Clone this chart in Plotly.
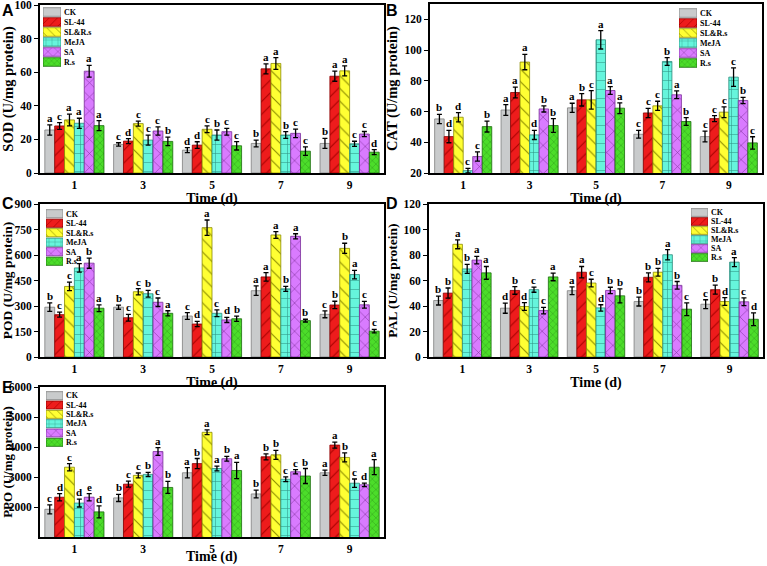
import plotly.graph_objects as go

days = ["1", "3", "5", "7", "9"]
treatments = ["CK", "SL-44", "SL&R.s", "MeJA", "SA", "R.s"]

# ---- SOD (panel A) rows = treatments, cols = days
sod_mean = [
    [25.6, 17.0, 13.6, 17.6, 17.6],
    [28.0, 19.0, 16.6, 62.0, 57.6],
    [31.6, 29.4, 26.0, 65.2, 60.8],
    [29.6, 19.6, 22.6, 22.6, 17.4],
    [60.6, 25.0, 24.6, 23.6, 23.2],
    [28.2, 18.8, 16.2, 13.0, 12.4],
]
sod_err = [
    [3, 1, 1.5, 2, 3],
    [2, 1.5, 2, 3, 3],
    [3.5, 1.5, 2, 3.5, 3],
    [3, 3, 3, 2, 1.5],
    [3.5, 2.5, 2, 2.5, 1.5],
    [3, 2.5, 2.5, 2.5, 1.5],
]
sod_letters = [
    ["a", "c", "d", "b", "b"],
    ["c", "d", "d", "a", "a"],
    ["a", "c", "c", "a", "a"],
    ["a", "c", "b", "b", "c"],
    ["a", "c", "c", "c", "c"],
    ["a", "b", "c", "c", "d"],
]

# ---- CAT (panel B)
cat_mean = [
    [55.2, 61.0, 62.4, 45.2, 43.7],
    [43.7, 72.4, 67.6, 59.1, 55.4],
    [56.3, 92.2, 67.6, 63.7, 59.6],
    [21.5, 44.8, 106.7, 92.6, 82.4],
    [30.7, 61.7, 73.7, 70.9, 67.2],
    [50.2, 50.9, 62.2, 53.5, 39.6],
]
cat_err = [
    [3, 3.5, 3, 2.5, 3.5],
    [4, 3.5, 4, 3, 2],
    [3, 5, 6, 3, 3.5],
    [1.5, 3, 6, 2.5, 6],
    [3, 2, 2.5, 2.5, 2],
    [3.5, 4.5, 3.5, 2.5, 4],
]
cat_letters = [
    ["b", "a", "a", "c", "c"],
    ["d", "a", "b", "c", "c"],
    ["d", "a", "c", "c", "c"],
    ["c", "d", "a", "b", "c"],
    ["c", "b", "a", "a", "b"],
    ["b", "b", "a", "b", "c"],
]

# ---- POD (panel C)
pod_mean = [
    [293, 293, 241, 390, 251],
    [249, 231, 194, 471, 306],
    [415, 384, 761, 718, 639],
    [524, 372, 257, 401, 485],
    [552, 322, 218, 710, 307],
    [287, 257, 225, 214, 152],
]
pod_err = [
    [25, 12, 20, 28, 20],
    [15, 20, 15, 25, 22],
    [25, 18, 45, 20, 30],
    [25, 20, 20, 15, 25],
    [30, 25, 15, 15, 20],
    [20, 15, 15, 8, 10],
]
pod_letters = [
    ["b", "b", "c", "a", "c"],
    ["c", "c", "d", "a", "b"],
    ["c", "c", "a", "a", "b"],
    ["a", "b", "c", "b", "a"],
    ["b", "c", "d", "a", "c"],
    ["a", "a", "b", "b", "c"],
]

# ---- PAL (panel D)
pal_mean = [
    [44.3, 38.3, 52.0, 43.5, 41.4],
    [50.1, 52.2, 66.5, 62.5, 52.8],
    [88.4, 39.6, 58.0, 66.5, 43.5],
    [69.1, 52.8, 38.5, 80.2, 74.4],
    [76.0, 36.4, 52.2, 56.2, 43.3],
    [66.0, 62.8, 48.0, 37.5, 29.6],
]
pal_err = [
    [3.5, 4, 3, 3.5, 3.5],
    [4, 3, 4.5, 3.5, 3.5],
    [3.5, 3, 3, 3, 3],
    [3.5, 2, 2.5, 4, 3.5],
    [3, 2.5, 2.5, 3, 3],
    [5, 3, 5.5, 5, 5],
]
pal_letters = [
    ["b", "d", "a", "b", "c"],
    ["b", "b", "a", "b", "b"],
    ["a", "d", "c", "b", "d"],
    ["b", "c", "d", "a", "a"],
    ["a", "c", "b", "b", "c"],
    ["a", "a", "b", "c", "d"],
]

# ---- PPO (panel E)
ppo_mean = [
    [1924, 2304, 3141, 2435, 3141],
    [2326, 2761, 3446, 3674, 4065],
    [3326, 3054, 4490, 3739, 3652],
    [2130, 3087, 3283, 2924, 2793],
    [2326, 3848, 3609, 3174, 2739],
    [1837, 2652, 3217, 3033, 3326],
]
ppo_err = [
    [150, 120, 170, 130, 90],
    [120, 100, 170, 100, 100],
    [120, 80, 80, 150, 150],
    [130, 70, 80, 80, 140],
    [120, 130, 80, 70, 60],
    [200, 200, 270, 250, 250],
]
ppo_letters = [
    ["c", "b", "a", "b", "a"],
    ["d", "c", "b", "b", "a"],
    ["c", "c", "a", "b", "b"],
    ["d", "b", "a", "c", "c"],
    ["e", "a", "b", "c", "d"],
    ["d", "b", "a", "b", "a"],
]

# tick values per panel
sod_ticks = [0, 20, 40, 60, 80, 100]
cat_ticks = [20, 40, 60, 80, 100, 120]
pod_ticks = [0, 150, 300, 450, 600, 750, 900]
pal_ticks = [0, 20, 40, 60, 80, 100, 120]
ppo_ticks = [2000, 3000, 4000, 5000, 6000]

# legend key swatch length (one full-length key bar per treatment)
legend_key = [1]

# ---------------- styling ----------------
W, H = 767, 566
SERIF = "Liberation Serif"
SANS = "Liberation Sans"

styles = [
    dict(bg="#c9cbcc", fg="#c9cbcc", shape="", line="#7f7f7f", size=8),
    dict(bg="#ee1c1c", fg="#a80000", shape="/", line="#8b0000", size=9),
    dict(bg="#ffff33", fg="#8c8c00", shape="\\", line="#8c8c00", size=9),
    dict(bg="#66f5dc", fg="#2f9585", shape="+", line="#2a8c7c", size=9),
    dict(bg="#d97bff", fg="#8a3aa8", shape="x", line="#7a2f99", size=10),
    dict(bg="#4cdd2a", fg="#1f7a10", shape="x", line="#1a6b0d", size=5),
]


def px_x(a, b):
    return [a / W, b / W]


def px_y(top, bottom):
    return [(H - bottom) / H, (H - top) / H]


panels = [
    dict(mean=sod_mean, err=sod_err, let=sod_letters, title="SOD (U/mg protein)",
         rng=[0, 100], ticks=sod_ticks, xd=px_x(40, 384), yd=px_y(5, 173),
         leg=(43, 61, 7, 67), label="A", lab=(0, 0), tsize=14.5),
    dict(mean=cat_mean, err=cat_err, let=cat_letters, title="CAT (U/mg protein)",
         rng=[20, 130], ticks=cat_ticks, xd=px_x(430, 762), yd=px_y(4, 173),
         leg=(679, 697, 8, 68), label="B", lab=(384, 0), tsize=14.5),
    dict(mean=pod_mean, err=pod_err, let=pod_letters, title="POD (U/mg protein)",
         rng=[0, 900], ticks=pod_ticks, xd=px_x(40, 384), yd=px_y(204, 357),
         leg=(46, 63, 209, 266), label="C", lab=(0, 193), tsize=13.5),
    dict(mean=pal_mean, err=pal_err, let=pal_letters, title="PAL (U/mg protein)",
         rng=[0, 120], ticks=pal_ticks, xd=px_x(429, 763), yd=px_y(204, 357),
         leg=(691, 708, 208, 262), label="D", lab=(384, 193), tsize=13.5),
    dict(mean=ppo_mean, err=ppo_err, let=ppo_letters, title="PPO (U/mg protein)",
         rng=[1000, 6000], ticks=ppo_ticks, xd=px_x(40, 384), yd=px_y(387, 537),
         leg=(46, 63, 391, 447), label="E", lab=(0, 377), tsize=13),
]

BARGAP = 0.14
nT = len(treatments)
bw = (1 - BARGAP) / nT

fig = go.Figure()
annotations = []
layout = {}
axfont = dict(family=SERIF, size=11.5, color="black", weight="bold")
xtitlefont = dict(family=SERIF, size=14, color="black", weight="bold")


def bar_marker(st, size_adj=0):
    return dict(color=st["bg"],
                line=dict(color=st["line"], width=0.8),
                pattern=dict(shape=st["shape"], fgcolor=st["fg"],
                             bgcolor=st["bg"], size=max(4, st["size"] + size_adj),
                             solidity=0.12, fillmode="replace"))


for k, p in enumerate(panels):
    sfx = "" if k == 0 else str(k + 1)
    xref = "x" + sfx
    yref = "y" + sfx
    last = (k == len(panels) - 1)
    for i, t in enumerate(treatments):
        st = styles[i]
        fig.add_trace(go.Bar(
            x=days, y=p["mean"][i], name=t, showlegend=False,
            xaxis=xref, yaxis=yref, marker=bar_marker(st),
            error_y=dict(type="data", array=p["err"][i], color="black",
                         thickness=1.3, width=2.5),
        ))
        for j in range(len(days)):
            annotations.append(dict(
                x=j - (1 - BARGAP) / 2 + bw * (i + 0.5),
                y=p["mean"][i][j] + p["err"][i][j],
                xref=xref, yref=yref, text=p["let"][i][j], showarrow=False,
                yanchor="bottom", yshift=-1,
                font=dict(family=SERIF, size=11, color="black", weight="bold"),
            ))
    xa = dict(
        domain=p["xd"], anchor=yref, type="category", range=[-0.5, 4.5],
        showline=True, linecolor="black", linewidth=2, mirror=True,
        ticks="", tickfont=axfont,
        showgrid=False, automargin=False, zeroline=False,
        ticklabeloverflow="allow",
    )
    if not last:
        xa["title"] = dict(text="Time (d)", font=xtitlefont, standoff=0)
    else:
        # bottom panel: title sits at the very bottom edge of the figure
        annotations.append(dict(
            x=0.5, y=0, xref=xref + " domain", yref="paper",
            xanchor="center", yanchor="bottom", text="Time (d)", borderpad=0,
            showarrow=False, font=xtitlefont,
        ))
    layout["xaxis" + sfx] = xa
    layout["yaxis" + sfx] = dict(
        domain=p["yd"], anchor=xref, range=p["rng"],
        tickmode="array", tickvals=p["ticks"],
        showline=True, linecolor="black", linewidth=2, mirror=True,
        ticks="outside", ticklen=4, tickcolor="black", tickfont=axfont,
        title=dict(text=p["title"],
                   font=dict(family=SERIF, size=p["tsize"], color="black", weight="bold"),
                   standoff=3),
        showgrid=False, automargin=False, zeroline=False,
        ticklabeloverflow="allow",
    )
    annotations.append(dict(
        x=p["lab"][0] / W, y=(H - p["lab"][1]) / H, xref="paper", yref="paper",
        xanchor="left", yanchor="top", text=p["label"], showarrow=False,
        font=dict(family=SANS, size=16, color="black", weight="bold"),
    ))

# ---- legend keys: one small axis pair per panel
for k, p in enumerate(panels):
    n = 6 + k
    lx0, lx1, ly0, ly1 = p["leg"]
    for i, t in enumerate(treatments):
        fig.add_trace(go.Bar(
            x=legend_key, y=[t], orientation="h", showlegend=False,
            xaxis="x%d" % n, yaxis="y%d" % n, hoverinfo="skip",
            offsetgroup="key", marker=bar_marker(styles[i], -3),
        ))
    layout["xaxis%d" % n] = dict(
        domain=px_x(lx0, lx1), anchor="y%d" % n, range=[0, 1], visible=False,
        fixedrange=True,
    )
    layout["yaxis%d" % n] = dict(
        domain=px_y(ly0, ly1), anchor="x%d" % n, type="category",
        categoryorder="array", categoryarray=treatments,
        tickmode="array", tickvals=treatments,
        autorange="reversed", side="right", showline=False, showgrid=False,
        zeroline=False, ticks="", ticklabelstandoff=2,
        tickfont=dict(family=SERIF, size=8, color="black", weight="bold"),
        automargin=False, fixedrange=True,
    )

fig.update_layout(
    width=W, height=H, template="none",
    margin=dict(l=0, r=0, t=0, b=0),
    paper_bgcolor="white", plot_bgcolor="rgba(0,0,0,0)",
    barmode="group", bargap=BARGAP, bargroupgap=0,
    annotations=annotations,
    **layout,
)

fig.write_html("out.html", config={"displayModeBar": False},
               post_script="document.body.style.margin='0';document.body.style.padding='0';")
